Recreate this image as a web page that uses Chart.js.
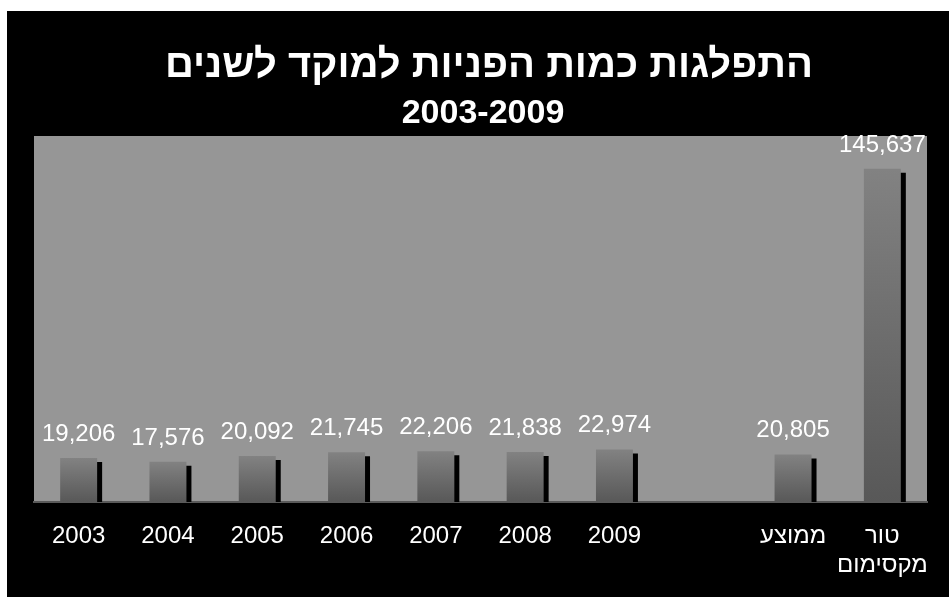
<!DOCTYPE html>
<html>
<head>
<meta charset="utf-8">
<script src="https://cdn.jsdelivr.net/npm/chart.js@4"></script>
<style>
  body { margin: 0; background: #fff; }
  #wrap { position: absolute; left: 7px; top: 11px; width: 942px; height: 586px; background: #000; }
</style>
</head>
<body>
<div id="wrap"><canvas id="grafico"></canvas></div>
<script>
// categories (one empty slot between 2009 and the average)
const categorias = ['2003', '2004', '2005', '2006', '2007', '2008', '2009', '', 'ממוצע', ['טור', 'מקסימום']];
// number of calls per year
const pniyot = [19206, 17576, 20092, 21745, 22206, 21838, 22974, null, 20805, 145637];

const titulo = 'התפלגות כמות הפניות למוקד לשנים';
const subtitulo = '2003-2009';

const fonte = 'Arial, "Liberation Sans", sans-serif';

// gray plot area + titles
const fundoPlugin = {
    id: 'fundo',
    beforeDraw(chart) {
        const { ctx, chartArea: a } = chart;
        ctx.save();
        ctx.fillStyle = '#969696';
        ctx.fillRect(a.left, a.top, a.right - a.left, a.bottom - a.top);
        ctx.fillStyle = '#fff';
        ctx.textAlign = 'center';
        ctx.textBaseline = 'alphabetic';
        ctx.font = 'bold 40px ' + fonte;
        ctx.fillText(titulo, 482, 66);
        ctx.font = 'bold 34px ' + fonte;
        ctx.fillText(subtitulo, 476, 112);
        ctx.restore();
    }
};

// black drop shadow on the bars
const sombraPlugin = {
    id: 'sombra',
    beforeDatasetDraw(chart) {
        const ctx = chart.ctx;
        ctx.save();
        ctx.shadowColor = '#000';
        ctx.shadowOffsetX = 5;
        ctx.shadowOffsetY = 4;
        ctx.shadowBlur = 0;
    },
    afterDatasetDraw(chart) {
        chart.ctx.restore();
    }
};

// value labels above the bars
const rotulosPlugin = {
    id: 'rotulos',
    afterDatasetsDraw(chart) {
        const ctx = chart.ctx;
        const meta = chart.getDatasetMeta(0);
        ctx.save();
        ctx.fillStyle = '#fff';
        ctx.font = '24px ' + fonte;
        ctx.textAlign = 'center';
        ctx.textBaseline = 'alphabetic';
        meta.data.forEach((bar, i) => {
            const v = pniyot[i];
            if (v == null) return;
            ctx.fillText(v.toLocaleString('en-US'), bar.x, bar.y - 17);
        });
        ctx.restore();
    }
};

new Chart(document.getElementById('grafico'), {
    type: 'bar',
    data: {
        labels: categorias,
        datasets: [{
            data: pniyot,
            backgroundColor: (c) => {
                const chart = c.chart;
                const area = chart.chartArea;
                if (!area || !c.parsed || c.parsed.y == null) return '#707070';
                const y = chart.scales.y.getPixelForValue(c.parsed.y);
                const g = chart.ctx.createLinearGradient(0, y, 0, area.bottom);
                g.addColorStop(0, '#828282');
                g.addColorStop(1, '#585858');
                return g;
            },
            borderWidth: 0,
            categoryPercentage: 1,
            barPercentage: 0.414
        }]
    },
    options: {
        responsive: true,
        maintainAspectRatio: false,
        animation: false,
        layout: { padding: { top: 125, left: 27, right: 22, bottom: 0 } },
        plugins: {
            legend: { display: false },
            tooltip: { enabled: false }
        },
        scales: {
            x: {
                grid: { display: false, drawTicks: false },
                border: { color: '#5a5a5a', width: 2 },
                ticks: {
                    color: '#fff',
                    font: { family: fonte, size: 24 },
                    padding: 20,
                    maxRotation: 0,
                    autoSkip: false
                },
                afterFit: (s) => { s.height = 95; }
            },
            y: {
                display: false,
                min: 0,
                max: 160000
            }
        }
    },
    plugins: [fundoPlugin, sombraPlugin, rotulosPlugin]
});
</script>
</body>
</html>
